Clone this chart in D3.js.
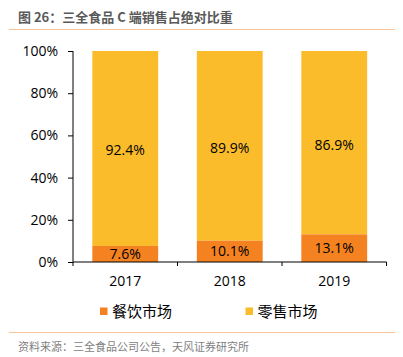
<!DOCTYPE html>
<html><head><meta charset="utf-8">
<script src="https://cdn.jsdelivr.net/npm/d3@7"></script>
<style>body{margin:0;background:#fff}svg{display:block}</style>
</head><body>
<svg id="c" width="403" height="357"></svg>
<script>
const years = ["2017","2018","2019"];
const catering = [7.6, 10.1, 13.1];
const retail = [92.4, 89.9, 86.9];
const yTicks = [0,20,40,60,80,100];
const seriesNames = ["餐饮市场","零售市场"];
const colors = ["#F58220","#FBBC2C"];
const titleText = "图 26：三全食品 C 端销售占绝对比重";
const sourceText = "资料来源：三全食品公司公告，天风证券研究所";

const svg = d3.select("#c");
const font = "'Microsoft YaHei','Noto Sans CJK SC',sans-serif";
svg.append("text").attr("x",18).attr("y",22).text(titleText)
  .attr("font-family",font).attr("font-size",13).attr("font-weight","bold").attr("fill","#595959");
svg.append("line").attr("x1",9).attr("x2",395).attr("y1",29.5).attr("y2",29.5).attr("stroke","#F8C49A").attr("stroke-width",1.2);
svg.append("line").attr("x1",9).attr("x2",395).attr("y1",332.5).attr("y2",332.5).attr("stroke","#F8C49A").attr("stroke-width",1.2);
svg.append("text").attr("x",18).attr("y",351).text(sourceText)
  .attr("font-family",font).attr("font-size",11).attr("fill","#7F7F7F");

const x = d3.scaleBand().domain(years).range([73,386.5]).paddingInner(0.37).paddingOuter(0.185);
const y = d3.scaleLinear().domain([0,100]).range([262,51]);

const yAxis = svg.append("g").attr("transform","translate(73,0)")
  .call(d3.axisLeft(y).tickValues(yTicks).tickFormat(d=>d+"%").tickSize(5).tickPadding(10));
yAxis.select(".domain").attr("d","M0,"+y(100)+"V"+y(0)).attr("stroke","#000");
yAxis.selectAll("text").attr("font-family","'Open Sans',sans-serif").attr("font-size",14).attr("fill","#000");

const stackData = years.map((yr,i)=>({year:yr, c:catering[i], r:retail[i]}));
const g = svg.append("g");
g.selectAll(".r").data(stackData).enter().append("rect")
  .attr("x",d=>x(d.year)).attr("width",x.bandwidth())
  .attr("y",d=>y(d.c+d.r)).attr("height",d=>y(d.c)-y(d.c+d.r)).attr("fill",colors[1]);
g.selectAll(".c").data(stackData).enter().append("rect")
  .attr("x",d=>x(d.year)).attr("width",x.bandwidth())
  .attr("y",d=>y(d.c)).attr("height",d=>y(0)-y(d.c)).attr("fill",colors[0]);

const lblFont = "'Open Sans',sans-serif";
g.selectAll(".lc").data(stackData).enter().append("text")
  .attr("x",d=>x(d.year)+x.bandwidth()/2).attr("y",d=>(y(d.c)+y(0))/2)
  .attr("dy","0.35em").attr("text-anchor","middle").text(d=>d.c.toFixed(1)+"%")
  .attr("font-family",lblFont).attr("font-size",14).attr("fill","#000");
g.selectAll(".lr").data(stackData).enter().append("text")
  .attr("x",d=>x(d.year)+x.bandwidth()/2).attr("y",d=>(y(d.c)+y(d.c+d.r))/2+2)
  .attr("dy","0.35em").attr("text-anchor","middle").text(d=>d.r.toFixed(1)+"%")
  .attr("font-family",lblFont).attr("font-size",14).attr("fill","#000");

const xAxis = svg.append("g").attr("transform","translate(0,262)")
  .call(d3.axisBottom(x).tickSize(0).tickPadding(14));
xAxis.select(".domain").attr("d","M73,0H386.5").attr("stroke","#000");
xAxis.selectAll("text").attr("font-family",lblFont).attr("font-size",14).attr("fill","#000");
const bounds = [73, ...years.map(yr=>x(yr)+x.bandwidth()+x.step()*x.paddingInner()/2)];
bounds[bounds.length-1]=386.5;
xAxis.selectAll(".bt").data(bounds).enter().append("line")
  .attr("x1",d=>d).attr("x2",d=>d).attr("y1",0).attr("y2",4).attr("stroke","#000");

const leg = svg.append("g");
const legX = [100,245.5];
seriesNames.forEach((n,i)=>{
  leg.append("rect").attr("x",legX[i]).attr("y",307.5).attr("width",7.5).attr("height",7.5).attr("fill",colors[i]);
  leg.append("text").attr("x",legX[i]+12).attr("y",311.5).attr("dy","0.35em").text(n)
    .attr("font-family",font).attr("font-size",15).attr("fill","#000");
});
</script>
</body></html>
